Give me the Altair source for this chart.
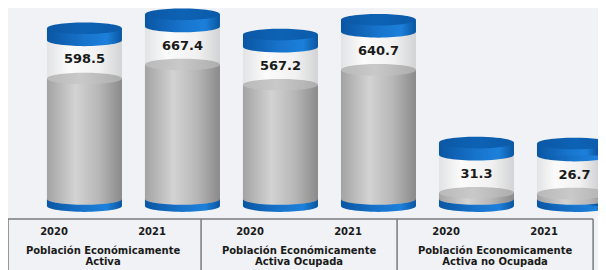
import altair as alt
import pandas as pd

# ---- data ----
years = ["2020", "2021", "2020", "2021", "2020", "2021"]
values = [598.5, 667.4, 567.2, 640.7, 31.3, 26.7]
group_line1 = ["Población Económicamente", "Población Económicamente", "Población Economicamente"]
group_line2 = ["Activa", "Activa Ocupada", "Activa no Ocupada"]

# ---- geometry (in data units of the scales) ----
SLOT_PX = 98.0
BAR_PX = 75.0
OFFSET = 0.31            # 3-D perspective shift of the cylinders
HALF = BAR_PX / SLOT_PX / 2
WHITE = 189.0            # empty "glass" part above the value
CAP = 60.0               # blue lid thickness
BASE = 35.0              # blue foot thickness

xs = alt.Scale(domain=[-0.47, 5.55], nice=False, zero=False, clamp=True)
ys = alt.Scale(domain=[-352, 948], nice=False, zero=False)

slots = list(range(len(values)))
df = pd.DataFrame({
    "slot": slots,
    "year": years,
    "value": values,
})
df["cx"] = df["slot"] + OFFSET
df["x0"] = df["cx"] - HALF
df["x1"] = df["cx"] + HALF
df["zero"] = 0.0
df["base_bot"] = -BASE
df["white_top"] = df["value"] + WHITE
df["cap_top"] = df["value"] + WHITE + CAP
df["label_y"] = df["value"] + WHITE / 2

RY = 0.155
K = 0.5523
ELLIPSE = (
    f"M -1 0 C -1 {-K*RY:.4f} {-K:.4f} {-RY} 0 {-RY} "
    f"C {K:.4f} {-RY} 1 {-K*RY:.4f} 1 0 "
    f"C 1 {K*RY:.4f} {K:.4f} {RY} 0 {RY} "
    f"C {-K:.4f} {RY} -1 {K*RY:.4f} -1 0 Z"
)


def hgrad(stops):
    return alt.LinearGradient(
        gradient="linear", x1=0, y1=0, x2=1, y2=0,
        stops=[alt.GradientStop(offset=o, color=c) for o, c in stops],
    )


gray_side = hgrad([(0, "#a3a3a3"), (0.38, "#d3d3d3"), (0.7, "#b6b6b6"), (1, "#8a8a8a")])
gray_top = hgrad([(0, "#b9b9b9"), (0.45, "#c9c9c9"), (1, "#adadad")])
glass = hgrad([(0, "#e2e3e5"), (0.3, "#fbfbfb"), (0.7, "#f1f1f1"), (1, "#d2d3d5")])
blue_side = hgrad([(0, "#0a56a3"), (0.5, "#1874cc"), (0.8, "#1c80da"), (1, "#0a55a0")])
blue_top = hgrad([(0, "#0b58a6"), (0.5, "#0e62b4"), (1, "#0c5aaa")])


def rect(y, y2, fill):
    return alt.Chart(df).mark_rect(fill=fill, strokeWidth=0).encode(
        x=alt.X("x0:Q", scale=xs, axis=None),
        x2="x1:Q",
        y=alt.Y(f"{y}:Q", scale=ys, axis=None),
        y2=f"{y2}:Q",
    )


def ell(y, fill):
    return alt.Chart(df).mark_point(
        shape=ELLIPSE, size=BAR_PX ** 2, filled=True, opacity=1, fill=fill, strokeWidth=0
    ).encode(
        x=alt.X("cx:Q", scale=xs, axis=None),
        y=alt.Y(f"{y}:Q", scale=ys, axis=None),
    )


layers = [
    rect("zero", "white_top", glass),
    ell("base_bot", blue_side),
    rect("base_bot", "zero", blue_side),
    ell("zero", gray_side),
    rect("zero", "value", gray_side),
    ell("value", gray_top),
    ell("white_top", blue_side),
    rect("white_top", "cap_top", blue_side),
    ell("cap_top", blue_top),
]

labels = alt.Chart(df).mark_text(
    font="DejaVu Sans", fontSize=13, fontWeight="bold", color="#1a1a1a", baseline="middle"
).encode(
    x=alt.X("cx:Q", scale=xs, axis=None),
    y=alt.Y("label_y:Q", scale=ys, axis=None),
    text=alt.Text("value:Q", format=".1f"),
)

# ---- category table below ----
year_df = pd.DataFrame({"slot": slots, "year": years, "ty": [-164.0] * len(slots)})
year_text = alt.Chart(year_df).mark_text(
    font="DejaVu Sans", fontSize=10, fontWeight="bold", color="#1a1a1a", baseline="middle"
).encode(
    x=alt.X("slot:Q", scale=xs, axis=None),
    y=alt.Y("ty:Q", scale=ys, axis=None),
    text="year:N",
)

grp_df = pd.DataFrame({
    "gx": [0.5, 2.5, 4.5] * 2,
    "gy": [-259.0] * 3 + [-313.0] * 3,
    "txt": group_line1 + group_line2,
})
grp_text = alt.Chart(grp_df).mark_text(
    font="DejaVu Sans", fontSize=10, fontWeight="bold", color="#1a1a1a", baseline="middle"
).encode(
    x=alt.X("gx:Q", scale=xs, axis=None),
    y=alt.Y("gy:Q", scale=ys, axis=None),
    text="txt:N",
)

hline_df = pd.DataFrame({"a": [-0.5], "b": [5.5], "y": [-99.0]})
hline = alt.Chart(hline_df).mark_rule(color="#7a7a7a", strokeWidth=1.5).encode(
    x=alt.X("a:Q", scale=xs, axis=None),
    x2="b:Q",
    y=alt.Y("y:Q", scale=ys, axis=None),
)
vline_df = pd.DataFrame({"x": [-0.5, 1.5, 3.5, 5.5], "y": [-99.0] * 4, "y2": [-352.0] * 4})
vlines = alt.Chart(vline_df).mark_rule(color="#7a7a7a", strokeWidth=1.5).encode(
    x=alt.X("x:Q", scale=xs, axis=None),
    y=alt.Y("y:Q", scale=ys, axis=None),
    y2="y2:Q",
)

chart = alt.layer(*layers, labels, hline, vlines, year_text, grp_text).properties(
    width=590, height=262, background="#f0f2f5", padding=0,
    autosize=alt.AutoSizeParams(type="none"),
).configure_view(strokeWidth=0)

chart.save("out.html", embed_options={"renderer": "svg", "actions": False})
